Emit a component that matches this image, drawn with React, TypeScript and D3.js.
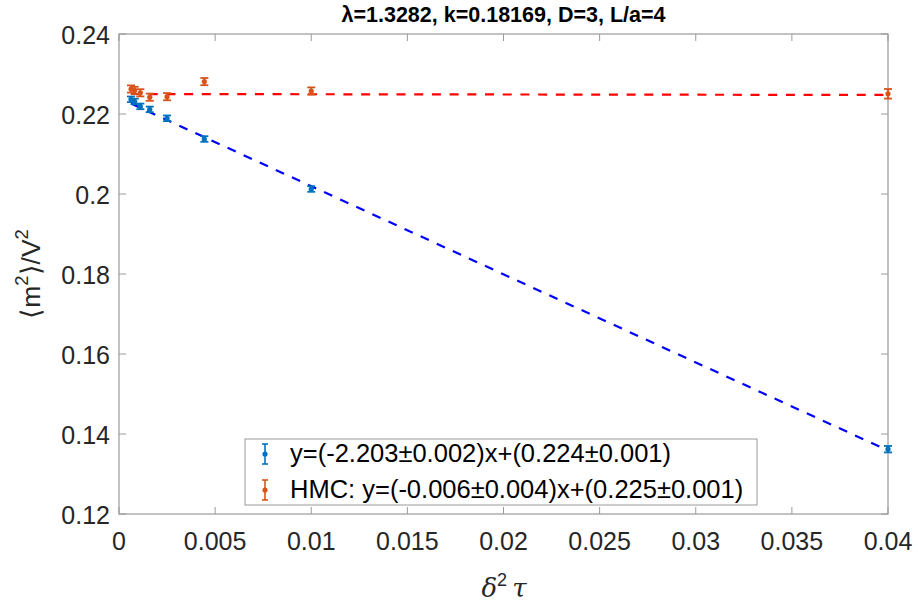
import React from "react";
import * as d3 from "d3";

// delta^2 tau values (delta = 0.2/n, n = 1..8)
const xValues = [0.000625, 0.000816, 0.00111, 0.0016, 0.0025, 0.00444, 0.01, 0.04];
const langevinY = [0.22367, 0.22313, 0.2219, 0.22115, 0.21893, 0.21375, 0.20125, 0.1362];
const langevinErr = [0.0007, 0.0007, 0.0007, 0.0007, 0.0007, 0.0007, 0.0007, 0.0008];
const hmcY = [0.22625, 0.2259, 0.2253, 0.2242, 0.22433, 0.2281, 0.22575, 0.22505];
const hmcErr = [0.0009, 0.0009, 0.0009, 0.0009, 0.0009, 0.0009, 0.0009, 0.0012];

const fitBlue = { slope: -2.203, intercept: 0.224 };
const fitRed = { slope: -0.006, intercept: 0.225 };

const xTicks = [0, 0.005, 0.01, 0.015, 0.02, 0.025, 0.03, 0.035, 0.04];
const yTicks = [0.12, 0.14, 0.16, 0.18, 0.2, 0.22, 0.24];

const legendLabels = [
  "y=(-2.203\u00b10.002)x+(0.224\u00b10.001)",
  "HMC: y=(-0.006\u00b10.004)x+(0.225\u00b10.001)",
];

const title = "\u03bb=1.3282, k=0.18169, D=3, L/a=4";

const BLUE = "#0072BD";
const ORANGE = "#D95319";
const FONT = "'Liberation Sans', Arial, Helvetica, sans-serif";

const W = 918;
const H = 605;
const margin = { left: 119, right: 30, top: 34, bottom: 91 };

const App = () => {
  const x = d3.scaleLinear().domain([0, 0.04]).range([margin.left, W - margin.right]);
  const y = d3.scaleLinear().domain([0.12, 0.24]).range([H - margin.bottom, margin.top]);
  const [x0, x1] = x.range();
  const [y0, y1] = y.range();

  const fmt = (v: number) => (v === 0 ? "0" : String(+v.toFixed(4)));

  const series = [
    { ys: langevinY, err: langevinErr, color: BLUE, fit: fitBlue, lineColor: "#0000ff" },
    { ys: hmcY, err: hmcErr, color: ORANGE, fit: fitRed, lineColor: "#ff0000" },
  ];

  const xmin = d3.min(xValues) as number;
  const xmax = d3.max(xValues) as number;

  const capW = 4;

  return (
    <svg
      width={W}
      height={H}
      style={{ position: "absolute", left: 0, top: 0, background: "#fff" }}
      fontFamily={FONT}
    >
      <rect x={0} y={0} width={W} height={H} fill="#fff" />
      {/* title */}
      <text x={(x0 + x1) / 2} y={22} textAnchor="middle" fontSize={21.5} fontWeight="bold" fill="#000">
        {title}
      </text>

      {/* ticks */}
      {xTicks.map((t) => (
        <g key={"xt" + t}>
          <line x1={x(t)} x2={x(t)} y1={y0} y2={y0 - 7} stroke="#9a9a9a" strokeWidth={1} />
          <line x1={x(t)} x2={x(t)} y1={y1} y2={y1 + 7} stroke="#9a9a9a" strokeWidth={1} />
          <text x={x(t)} y={y0 + 36} textAnchor="middle" fontSize={25} fill="#262626">
            {fmt(t)}
          </text>
        </g>
      ))}
      {yTicks.map((t) => (
        <g key={"yt" + t}>
          <line x1={x0} x2={x0 + 7} y1={y(t)} y2={y(t)} stroke="#9a9a9a" strokeWidth={1} />
          <line x1={x1} x2={x1 - 7} y1={y(t)} y2={y(t)} stroke="#9a9a9a" strokeWidth={1} />
          <text x={x0 - 9} y={y(t) + 9.5} textAnchor="end" fontSize={25} fill="#262626">
            {fmt(t)}
          </text>
        </g>
      ))}

      {/* box */}
      <rect x={x0} y={y1} width={x1 - x0} height={y0 - y1} fill="none" stroke="#9a9a9a" strokeWidth={1.2} />

      {/* fit lines */}
      {series.map((s, si) => (
        <line
          key={"f" + si}
          x1={x(xmin)}
          y1={y(s.fit.intercept + s.fit.slope * xmin)}
          x2={x(xmax)}
          y2={y(s.fit.intercept + s.fit.slope * xmax)}
          stroke={s.lineColor}
          strokeWidth={2.2}
          strokeDasharray="9,8.7"
        />
      ))}

      {/* data with error bars */}
      {series.map((s, si) => (
        <g key={"s" + si}>
          {xValues.map((xv, i) => {
            const cx = x(xv);
            const top = y(s.ys[i] + s.err[i]);
            const bot = y(s.ys[i] - s.err[i]);
            return (
              <g key={i} stroke={s.color} strokeWidth={1.8}>
                <line x1={cx} x2={cx} y1={top} y2={bot} />
                <line x1={cx - capW} x2={cx + capW} y1={top} y2={top} />
                <line x1={cx - capW} x2={cx + capW} y1={bot} y2={bot} />
                <circle cx={cx} cy={y(s.ys[i])} r={2.6} fill={s.color} stroke="none" />
              </g>
            );
          })}
        </g>
      ))}

      {/* legend */}
      <g>
        <rect x={245} y={439} width={512} height={66} fill="#fff" stroke="#9a9a9a" strokeWidth={1} />
        {legendLabels.map((lab, i) => {
          const cy = 454 + i * 36;
          const c = series[i].color;
          return (
            <g key={"l" + i}>
              <g stroke={c} strokeWidth={1.6}>
                <line x1={265} x2={265} y1={cy - 10} y2={cy + 10} />
                <line x1={262} x2={268} y1={cy - 10} y2={cy - 10} />
                <line x1={262} x2={268} y1={cy + 10} y2={cy + 10} />
              </g>
              <circle cx={265} cy={cy} r={2.6} fill={c} />
              <text x={290} y={cy + 8} fontSize={25.5} fill="#000">
                {lab}
              </text>
            </g>
          );
        })}
      </g>

      {/* axis labels */}
      <text x={504} y={597} textAnchor="middle" fontSize={26} fill="#262626" fontFamily="'DejaVu Serif', serif" fontStyle="italic">
        {"\u03b4"}
        <tspan dy={-11} fontSize={18} fontStyle="normal" fontFamily={FONT}>2</tspan>
        <tspan dy={11}>{"\u2009\u03c4"}</tspan>
      </text>
      <text
        transform={`translate(40, ${(y0 + y1) / 2}) rotate(-90)`}
        textAnchor="middle"
        fontSize={26.5}
        fill="#262626"
      >
        {"\u27e8m"}
        <tspan dy={-12} fontSize={18.5}>2</tspan>
        <tspan dy={12}>{"\u27e9/V"}</tspan>
        <tspan dy={-12} fontSize={18.5}>2</tspan>
      </text>
    </svg>
  );
};

export default App;
